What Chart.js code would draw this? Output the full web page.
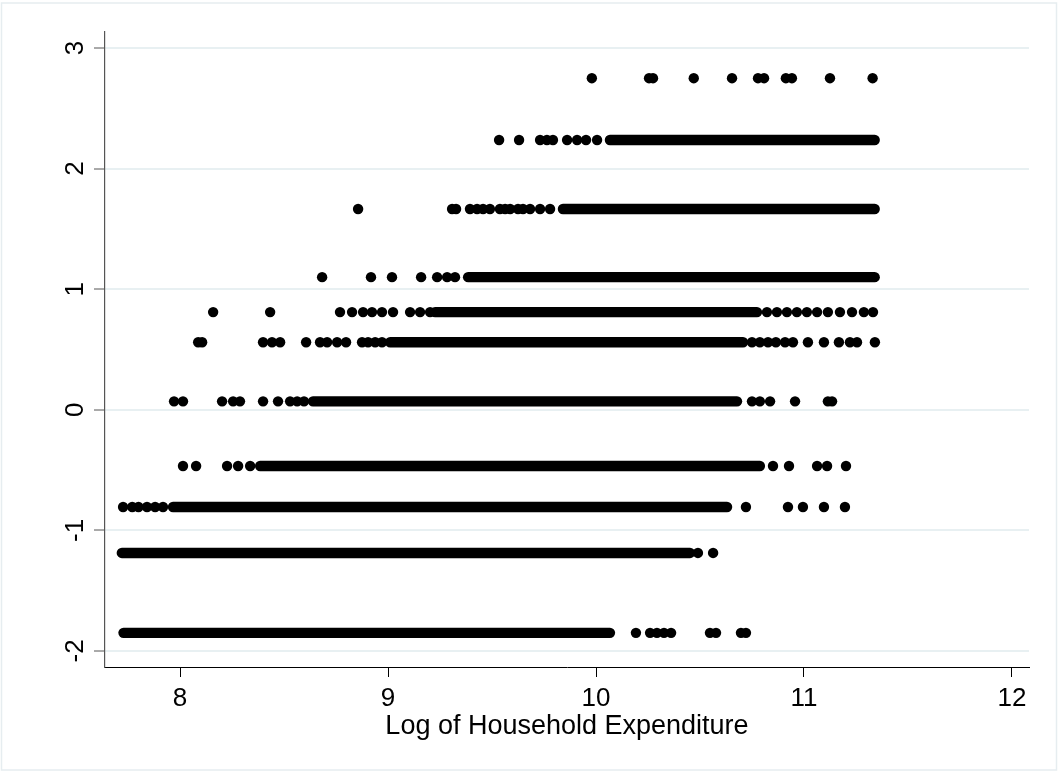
<!DOCTYPE html>
<html><head><meta charset="utf-8">
<script src="https://cdn.jsdelivr.net/npm/chart.js@4.4.1/dist/chart.umd.min.js"></script>
<style>html,body{margin:0;padding:0;background:#fff;}canvas{display:block;}</style>
</head><body>
<canvas id="c" width="1058" height="772"></canvas>
<script>
// y value of each horizontal band of points
const levelY = [2.75, 2.237, 1.665, 1.10, 0.81, 0.56, 0.07, -0.466, -0.806, -1.187, -1.85];
// isolated points (x values) on each band
const dots = [
 [9.98, 10.255, 10.274, 10.47, 10.654, 10.779, 10.808, 10.913, 10.942, 11.125, 11.33],
 [9.534, 9.63, 9.731, 9.764, 9.793, 9.861, 9.909, 9.952, 10.005],
 [8.856, 9.308, 9.327, 9.394, 9.428, 9.457, 9.49, 9.538, 9.563, 9.587, 9.625, 9.649, 9.683, 9.731, 9.779],
 [8.683, 8.918, 9.019, 9.159, 9.236, 9.284, 9.322],
 [8.159, 8.433, 8.769, 8.827, 8.88, 8.923, 8.971, 9.024, 9.106, 9.154, 9.202, 10.822, 10.87, 10.918, 10.966, 11.014, 11.063, 11.115, 11.173, 11.231, 11.288, 11.332],
 [8.087, 8.106, 8.399, 8.442, 8.481, 8.606, 8.673, 8.707, 8.755, 8.798, 8.875, 8.904, 8.938, 8.971, 10.75, 10.788, 10.827, 10.865, 10.909, 10.947, 11.019, 11.096, 11.168, 11.221, 11.255, 11.341],
 [7.971, 8.014, 8.202, 8.255, 8.288, 8.399, 8.471, 8.529, 8.563, 8.596, 10.75, 10.788, 10.837, 10.957, 11.115, 11.135],
 [8.014, 8.077, 8.226, 8.279, 8.337, 10.851, 10.928, 11.063, 11.111, 11.202],
 [7.726, 7.77, 7.80, 7.841, 7.88, 7.918, 10.721, 10.923, 10.995, 11.096, 11.197],
 [10.49, 10.563],
 [10.192, 10.26, 10.293, 10.327, 10.361, 10.548, 10.577, 10.697, 10.721]
];
// dense, unbroken runs of points on each band: [first x, last x]
const runs = [
 [],
 [[10.067, 11.34]],
 [[9.841, 11.34]],
 [[9.385, 11.34]],
 [[9.226, 10.774]],
 [[9.01, 10.707]],
 [[8.639, 10.678]],
 [[8.385, 10.788]],
 [[7.966, 10.63]],
 [[7.72, 10.452]],
 [[7.728, 10.067]]
];
const xTicks = [8, 9, 10, 11, 12];
const yTicks = [-2, -1, 0, 1, 2, 3];
const xTitle = 'Log of Household Expenditure';

const FONT = "'Liberation Sans', Arial, Helvetica, sans-serif";
const datasets = [];
levelY.forEach((y, i) => {
  runs[i].forEach(r => datasets.push({
    showLine: true, data: r.map(x => ({x, y})), borderColor: '#000', backgroundColor: '#000',
    borderWidth: 10.4, borderCapStyle: 'round', pointRadius: 0, pointHoverRadius: 0
  }));
  datasets.push({
    data: dots[i].map(x => ({x, y})), backgroundColor: '#000', borderColor: '#000',
    borderWidth: 0, pointRadius: 5.2, pointHoverRadius: 5.2
  });
});

const frame = {
  id: 'frame',
  beforeDraw(chart) {
    const ctx = chart.ctx;
    ctx.save();
    ctx.fillStyle = '#fff';
    ctx.fillRect(0, 0, chart.width, chart.height);
    ctx.strokeStyle = '#e6edf0';
    ctx.lineWidth = 1.5;
    ctx.strokeRect(1.5, 3, 1055, 767);
    ctx.restore();
  }
};

new Chart(document.getElementById('c'), {
  type: 'scatter',
  data: { datasets },
  plugins: [frame],
  options: {
    responsive: false, animation: false, devicePixelRatio: 1,
    layout: { padding: { top: 32, right: 29, left: 0, bottom: 0 } },
    plugins: { legend: { display: false }, tooltip: { enabled: false } },
    scales: {
      x: {
        type: 'linear', min: 7.639, max: 12.082,
        afterBuildTicks: s => { s.ticks = xTicks.map(v => ({ value: v })); },
        afterFit: s => { s.height = 105; },
        grid: { drawOnChartArea: false, drawTicks: true, tickLength: 10, tickColor: '#000', tickWidth: 1 },
        border: { display: true, color: '#000', width: 1 },
        ticks: { font: { family: FONT, size: 26 }, color: '#000', padding: 6, maxRotation: 0, minRotation: 0, autoSkip: false },
        title: { display: true, text: xTitle, color: '#000', font: { family: FONT, size: 27 }, padding: { top: 0, bottom: 29 } }
      },
      y: {
        type: 'linear', min: -2.133, max: 3.133,
        afterBuildTicks: s => { s.ticks = yTicks.map(v => ({ value: v })); },
        afterFit: s => { s.width = 105; },
        grid: { color: '#e8f0f2', lineWidth: 2, drawTicks: true, tickLength: 11, tickColor: '#555', tickWidth: 1 },
        border: { display: true, color: '#555', width: 1.2 },
        ticks: { font: { family: FONT, size: 26 }, color: '#000', padding: 7, minRotation: 90, maxRotation: 90, crossAlign: 'center', autoSkip: false }
      }
    }
  }
});
</script>
</body></html>
